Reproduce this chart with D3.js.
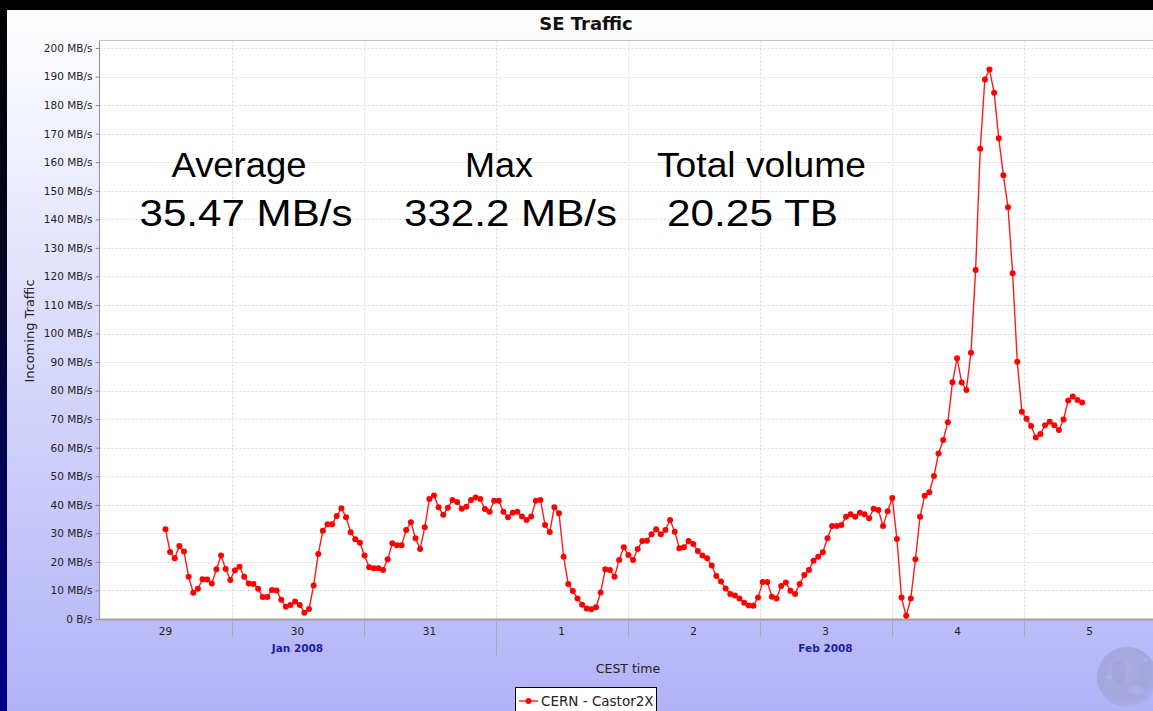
<!DOCTYPE html>
<html>
<head>
<meta charset="utf-8">
<script src="https://cdn.jsdelivr.net/npm/d3@7"></script>
<style>
  html, body { margin: 0; padding: 0; background: #000; overflow: hidden; }
  svg { display: block; }
</style>
</head>
<body>
<svg id="chart" width="1153" height="711"></svg>
<script>
// ---------------- DATA ----------------
const seriesName = "CERN - Castor2X";
const chartTitle = "SE Traffic";
const yAxisTitle = "Incoming Traffic";
const xAxisTitle = "CEST time";
// first sample time (UTC used as a naive local clock) and sampling interval
const firstSample = [2008, 0, 29, 12, 0];
const sampleMinutes = 50.5;
// Incoming traffic in MB/s, one value per sample
const traffic = [
  31.4, 23.5, 21.3, 25.6, 23.6, 14.8, 9.2, 10.6, 13.9, 13.8, 12.4, 17.4, 22.2, 17.5, 13.7, 17.1,
  18.3, 14.8, 12.4, 12.3, 10.6, 7.7, 7.7, 10.2, 10.0, 6.7, 4.3, 4.9, 6.1, 4.9, 2.2, 3.5,
  11.7, 22.8, 30.9, 33.2, 33.2, 36.1, 38.8, 35.6, 30.4, 27.9, 26.7, 22.2, 18.1, 17.8, 17.8, 17.2,
  20.9, 26.5, 25.8, 25.8, 31.2, 33.9, 28.3, 24.5, 32.1, 42.0, 43.3, 39.1, 36.5, 39.0, 41.7, 41.0,
  38.6, 39.3, 41.7, 42.6, 42.0, 38.5, 37.6, 41.4, 41.4, 37.6, 35.6, 37.2, 37.6, 35.9, 34.7, 35.9,
  41.4, 41.7, 32.9, 30.5, 39.1, 37.0, 21.8, 12.3, 9.8, 7.2, 5.0, 3.7, 3.4, 4.1, 9.3, 17.4,
  17.2, 14.8, 20.7, 25.1, 22.4, 20.7, 24.5, 27.3, 27.4, 29.7, 31.4, 29.7,
  31.2, 34.7, 30.6, 24.8, 25.1, 27.3, 26.3, 23.8, 22.2, 21.3, 18.7, 15.1, 13.1, 10.7, 8.8, 8.2,
  7.2, 5.7, 4.7, 4.6, 7.5, 13.0, 13.0, 7.8, 7.2, 11.6, 12.8, 9.9, 8.8, 12.3, 15.4, 17.2,
  20.4, 21.8, 23.4, 28.3, 32.6, 32.6, 32.9, 35.8, 36.7, 35.8, 37.2, 36.7, 35.3, 38.6, 38.2, 32.6,
  37.7, 42.4, 28.0, 7.5, 1.1, 7.2, 20.9, 35.8,
  43.2, 44.4, 50.1, 58.0, 62.7, 68.9, 82.9, 91.3, 82.8, 80.2, 93.3,
  122.2, 164.7, 189.0, 192.5, 184.3, 168.4, 155.4, 144.2, 121.1,
  90.1, 72.6, 70.1, 67.6, 63.6, 64.8, 67.9, 69.1, 67.9, 66.2, 69.9, 76.5, 77.9, 76.7, 75.8
];
const yTicks = d3.range(0, 201, 10);
const xDomain = [new Date(Date.UTC(2008, 0, 29)), new Date(Date.UTC(2008, 1, 6))];
const statLabels = ["Average", "Max", "Total volume"];
const statValues = ["35.47 MB/s", "332.2 MB/s", "20.25 TB"];

// ---------------- LAYOUT ----------------
const W = 1153, H = 711;
const plot = { left: 99.5, top: 40.5, right: 1155.5, bottom: 619 };

const svg = d3.select("#chart");
const defs = svg.append("defs");

const bgGrad = defs.append("linearGradient").attr("id", "slideBg").attr("x1", 0).attr("y1", 0).attr("x2", 0).attr("y2", 1);
bgGrad.append("stop").attr("offset", "0%").attr("stop-color", "#000000");
bgGrad.append("stop").attr("offset", "35%").attr("stop-color", "#060620");
bgGrad.append("stop").attr("offset", "100%").attr("stop-color", "#00008a");

const panelGrad = defs.append("linearGradient").attr("id", "panelBg").attr("x1", 0).attr("y1", 0).attr("x2", 0).attr("y2", 1);
panelGrad.append("stop").attr("offset", "0%").attr("stop-color", "#ffffff");
panelGrad.append("stop").attr("offset", "100%").attr("stop-color", "#b2b2f8");

const globeGrad = defs.append("radialGradient").attr("id", "globe").attr("cx", "42%").attr("cy", "38%").attr("r", "65%");
globeGrad.append("stop").attr("offset", "0%").attr("stop-color", "#acacdf");
globeGrad.append("stop").attr("offset", "70%").attr("stop-color", "#a2a2da");
globeGrad.append("stop").attr("offset", "100%").attr("stop-color", "#acacec");

svg.append("rect").attr("width", W).attr("height", H).attr("fill", "url(#slideBg)");
svg.append("rect").attr("x", 7).attr("y", 10).attr("width", W - 7).attr("height", H - 10).attr("fill", "url(#panelBg)");

// globe decoration (faint)
const globe = svg.append("g").attr("opacity", 0.85);
globe.append("circle").attr("cx", 1127).attr("cy", 677).attr("r", 30).attr("fill", "url(#globe)");
globe.append("ellipse").attr("cx", 1119).attr("cy", 672).attr("rx", 7).attr("ry", 11).attr("fill", "#9a9ace").attr("opacity", 0.5);
globe.append("ellipse").attr("cx", 1136).attr("cy", 690).attr("rx", 8).attr("ry", 5).attr("fill", "#b8b8e8").attr("opacity", 0.5);
globe.append("circle").attr("cx", 1109).attr("cy", 677).attr("r", 2.5).attr("fill", "#a8c8e4").attr("opacity", 0.5);
globe.append("circle").attr("cx", 1146).attr("cy", 660).attr("r", 2).attr("fill", "#a8c8e4").attr("opacity", 0.5);

// scales
const x = d3.scaleUtc().domain(xDomain).range([plot.left, plot.right]);
const y = d3.scaleLinear().domain([0, 200]).range([plot.bottom, 48]);

const t0 = Date.UTC(...firstSample);
const points = traffic.map((v, i) => ({ t: new Date(t0 + i * sampleMinutes * 60000), v }));

// plot background
svg.append("rect").attr("x", plot.left).attr("y", plot.top)
  .attr("width", plot.right - plot.left).attr("height", plot.bottom - plot.top).attr("fill", "#ffffff");

// gridlines
const days = d3.utcDay.range(xDomain[0], xDomain[1]).slice(1);
const grid = svg.append("g").attr("stroke", "#d8d8d8").attr("stroke-dasharray", "2,2").attr("stroke-width", 1);
grid.selectAll("line.h").data(yTicks.filter(d => d > 0)).join("line")
  .attr("x1", plot.left).attr("x2", plot.right)
  .attr("y1", d => Math.round(y(d)) + 0.5).attr("y2", d => Math.round(y(d)) + 0.5);
grid.selectAll("line.v").data(days).join("line")
  .attr("x1", d => Math.round(x(d)) + 0.5).attr("x2", d => Math.round(x(d)) + 0.5)
  .attr("y1", plot.top).attr("y2", plot.bottom);

// plot top border
svg.append("line").attr("x1", plot.left).attr("x2", plot.right).attr("y1", plot.top).attr("y2", plot.top)
  .attr("stroke", "#c4c4c4");

// y axis
const yAxis = d3.axisLeft(y).tickValues(yTicks).tickSize(4).tickPadding(3)
  .tickFormat(d => d === 0 ? "0 B/s" : d + " MB/s");
const yg = svg.append("g").attr("transform", `translate(${plot.left},0)`).call(yAxis);
yg.select(".domain").remove();
yg.selectAll(".tick line").attr("stroke", "#888");
yg.selectAll(".tick text").attr("font-family", "DejaVu Sans, sans-serif").attr("font-size", 10.5).attr("fill", "#222");
svg.append("line").attr("x1", plot.left).attr("x2", plot.left).attr("y1", plot.top).attr("y2", plot.bottom)
  .attr("stroke", "#9a9a9a").attr("stroke-width", 1.2);

// x axis (period axis: day row + month row)
svg.append("line").attr("x1", plot.left).attr("x2", W).attr("y1", plot.bottom + 0.5).attr("y2", plot.bottom + 0.5)
  .attr("stroke", "#a0a0a0").attr("stroke-width", 2);
const xg = svg.append("g");
xg.selectAll("line.day").data(days).join("line")
  .attr("x1", d => Math.round(x(d)) + 0.5).attr("x2", d => Math.round(x(d)) + 0.5)
  .attr("y1", plot.bottom).attr("y2", d => d.getUTCDate() === 1 ? 656 : 637)
  .attr("stroke", "#a8a8a8");
const dayStarts = d3.utcDay.range(xDomain[0], xDomain[1]);
xg.selectAll("text.day").data(dayStarts).join("text")
  .attr("x", d => x(d3.utcHour.offset(d, 12)))
  .attr("y", 635)
  .attr("text-anchor", "middle")
  .attr("font-family", "DejaVu Sans, sans-serif").attr("font-size", 10.5).attr("fill", "#222")
  .text(d => d.getUTCDate());
const months = d3.utcMonth.range(d3.utcMonth.floor(xDomain[0]), xDomain[1]);
xg.selectAll("text.month").data(months).join("text")
  .attr("x", d => {
    const a = d < xDomain[0] ? xDomain[0] : d;
    const e = d3.utcMonth.offset(d, 1);
    const b = e > xDomain[1] ? xDomain[1] : e;
    return (x(a) + x(b)) / 2;
  })
  .attr("y", 652)
  .attr("text-anchor", "middle")
  .attr("font-family", "DejaVu Sans, sans-serif").attr("font-size", 10.5).attr("font-weight", "bold")
  .attr("fill", "#1c1ca6")
  .text(d => d3.utcFormat("%b %Y")(d));

// axis titles
svg.append("text").attr("x", 628).attr("y", 673).attr("text-anchor", "middle")
  .attr("font-family", "DejaVu Sans, sans-serif").attr("font-size", 12.5).attr("fill", "#222")
  .text(xAxisTitle);
svg.append("text").attr("transform", "translate(34,331) rotate(-90)").attr("text-anchor", "middle")
  .attr("font-family", "DejaVu Sans, sans-serif").attr("font-size", 13).attr("fill", "#222")
  .text(yAxisTitle);

// title
svg.append("text").attr("x", 586).attr("y", 30).attr("text-anchor", "middle")
  .attr("font-family", "DejaVu Sans, sans-serif").attr("font-size", 18).attr("font-weight", "bold").attr("fill", "#111")
  .text(chartTitle);

// series
const clip = defs.append("clipPath").attr("id", "plotClip");
clip.append("rect").attr("x", plot.left).attr("y", plot.top - 5).attr("width", plot.right - plot.left).attr("height", plot.bottom - plot.top + 10);
const series = svg.append("g").attr("clip-path", "url(#plotClip)");
series.append("path").datum(points)
  .attr("fill", "none").attr("stroke", "#ff1a1a").attr("stroke-width", 1.4)
  .attr("d", d3.line().x(d => x(d.t)).y(d => y(d.v)));
series.selectAll("circle").data(points).join("circle")
  .attr("cx", d => x(d.t)).attr("cy", d => y(d.v)).attr("r", 3).attr("fill", "#ff0000");

// overlay statistics text
const statLayout = [
  { lx: 171.5, lw: 135, vx: 139.5, vw: 213 },
  { lx: 465, lw: 68, vx: 404, vw: 213 },
  { lx: 657, lw: 209, vx: 667, vw: 171 }
];
statLabels.forEach((lab, i) => {
  const L = statLayout[i];
  svg.append("text").attr("x", L.lx).attr("y", 177)
    .attr("font-family", "Liberation Sans, Arial, sans-serif").attr("font-size", 35).attr("fill", "#000")
    .attr("textLength", L.lw).attr("lengthAdjust", "spacingAndGlyphs").text(lab);
  svg.append("text").attr("x", L.vx).attr("y", 226)
    .attr("font-family", "Liberation Sans, Arial, sans-serif").attr("font-size", 37).attr("fill", "#000")
    .attr("textLength", L.vw).attr("lengthAdjust", "spacingAndGlyphs").text(statValues[i]);
});

// legend
const lg = svg.append("g");
lg.append("rect").attr("x", 515.5).attr("y", 687.5).attr("width", 141).attr("height", 30)
  .attr("fill", "#ffffff").attr("stroke", "#000").attr("stroke-width", 1);
lg.append("line").attr("x1", 519).attr("x2", 538).attr("y1", 701).attr("y2", 701).attr("stroke", "#ff1a1a").attr("stroke-width", 1.4);
lg.append("circle").attr("cx", 528.5).attr("cy", 701).attr("r", 3).attr("fill", "#ff0000");
lg.append("text").attr("x", 541).attr("y", 706)
  .attr("font-family", "DejaVu Sans, sans-serif").attr("font-size", 13.5).attr("fill", "#222")
  .text(seriesName);
</script>
</body>
</html>
